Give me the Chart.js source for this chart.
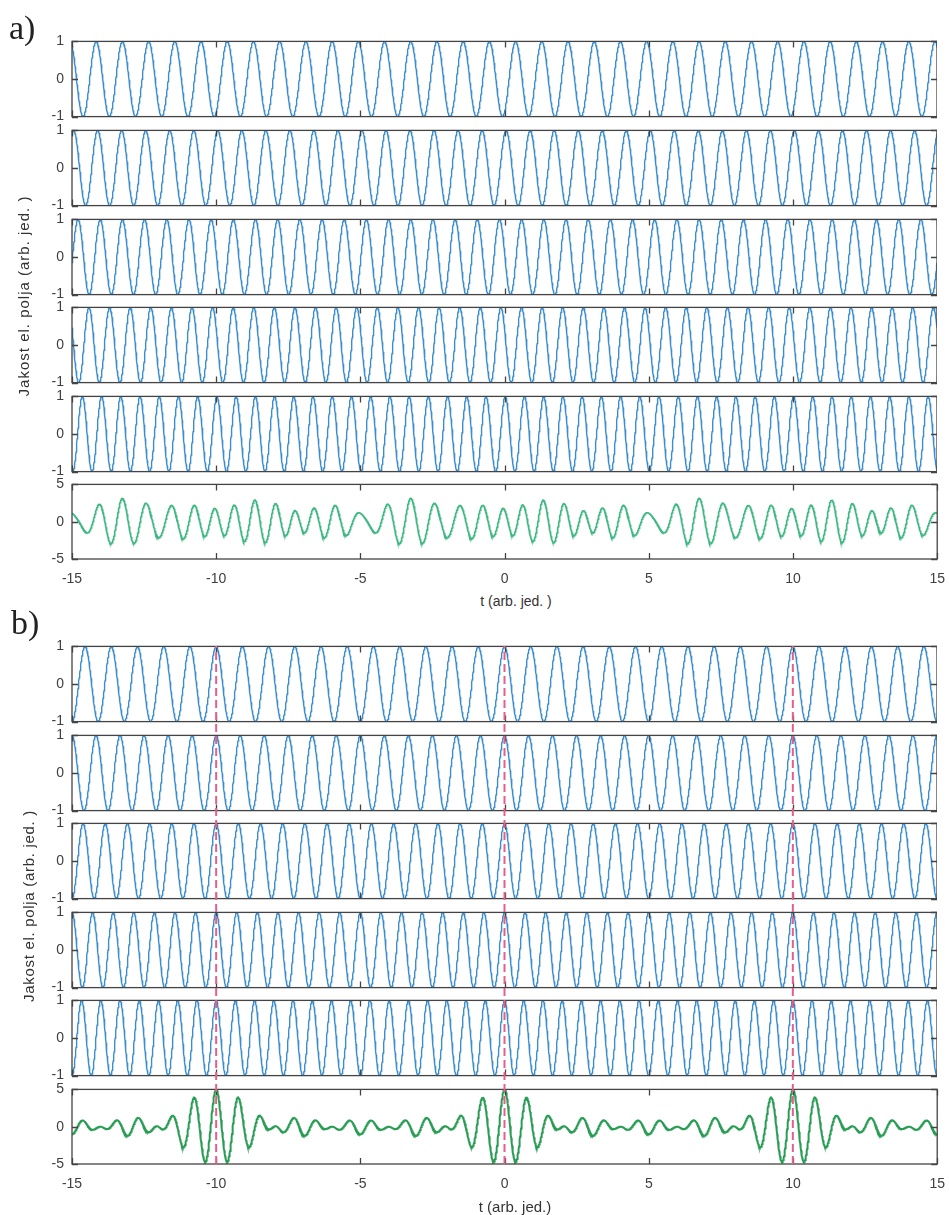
<!DOCTYPE html>
<html>
<head>
<meta charset="utf-8">
<script src="https://cdn.jsdelivr.net/npm/chart.js@4.4.1/dist/chart.umd.min.js"></script>
<style>
  html, body { margin: 0; padding: 0; background: #ffffff; }
  #page { position: relative; width: 949px; height: 1215px; overflow: hidden; background: #fff; }
  canvas { position: absolute; }
  .lbl { position: absolute; font-family: "Liberation Sans", Arial, sans-serif; color: #333; white-space: nowrap; transform: translate(-50%, -50%); }
  .panel { position: absolute; font-family: "Liberation Serif", "Times New Roman", serif; font-size: 34px; color: #222; line-height: 1; }
  .ytitle { position: absolute; font-family: "Liberation Sans", Arial, sans-serif; font-size: 15px; color: #333; white-space: nowrap; transform: translate(-50%, -50%) rotate(-90deg); }
</style>
</head>
<body>
<div id="page"></div>
<script>
// ---------------- data ----------------
const timeRange = [-15, 15];                 // t axis limits
const timeTicks = [-15, -10, -5, 0, 5, 10, 15];
const waveTicks = [-1, 0, 1];                // y ticks of single waves
const sumTicks = [-5, 0, 5];                 // y ticks of summed field
const waveFreqs = [1.1, 1.2, 1.3, 1.4, 1.5]; // cycles per unit t, rows 1..5
const peakTimesA = [-14.16, -14.11, -14.02, -14.41, -14.64]; // a) a crest of each wave
const peakTimesB = [0, 0, 0, 0, 0];          // b) all crests aligned at t = 0
const markerTimesB = [-10, 0, 10];           // b) red dashed lines
const xTitleA = 't (arb. jed. )';
const xTitleB = 't (arb. jed.)';
const yTitle = 'Jakost el. polja (arb. jed. )';

// ---------------- styling / layout ----------------
const BLUE = '#3b8dcc';
const GREEN_A = '#40b884';
const GREEN_B = '#2a9d55';
const RED = '#e4608a';
const FRAME = '#444444';
const TICK_FONT = { family: '"Liberation Sans", Arial, sans-serif', size: 14 };
const TICK_COLOR = '#404040';
const AXIS_LEFT = 72, AXIS_RIGHT = 937, PAGE_W = 949;
const AREA_W = AXIS_RIGHT - AXIS_LEFT;
const PLOT_H = 75, XAXIS_H = 34;
const rowTopsA = [41, 130, 219, 307, 396, 484];
const rowTopsB = [646, 735, 823, 912, 1000, 1089];

const page = document.getElementById('page');

// sample times (plot resolution only)
const N = 3001;
const sampleTimes = [];
for (let i = 0; i < N; i++) sampleTimes.push(timeRange[0] + (timeRange[1] - timeRange[0]) * i / (N - 1));

function wavePoints(f, t0) {
  return sampleTimes.map(t => ({ x: t, y: Math.cos(2 * Math.PI * f * (t - t0)) }));
}
function sumPoints(list) {
  return sampleTimes.map((t, i) => ({ x: t, y: list.reduce((s, w) => s + w[i].y, 0) }));
}

const framePlugin = {
  id: 'frame',
  afterDatasetsDraw(chart) {
    const { ctx, chartArea: a, scales } = chart;
    ctx.save();
    ctx.strokeStyle = FRAME;
    ctx.lineWidth = 1.3;
    ctx.beginPath();
    const L = 6;
    timeTicks.forEach(v => {
      const x = Math.round(scales.x.getPixelForValue(v)) + 0.5;
      ctx.moveTo(x, a.top); ctx.lineTo(x, a.top + L);
      ctx.moveTo(x, a.bottom); ctx.lineTo(x, a.bottom - L);
    });
    (chart.options.myTicks || []).forEach(v => {
      const y = Math.round(scales.y.getPixelForValue(v)) + 0.5;
      ctx.moveTo(a.left, y); ctx.lineTo(a.left + L, y);
      ctx.moveTo(a.right, y); ctx.lineTo(a.right - L, y);
    });
    ctx.stroke();
    ctx.strokeRect(a.left, a.top, a.right - a.left, a.bottom - a.top);
    ctx.restore();
  }
};

// create a chart so that its chart area lands exactly on the given page rectangle
function placeChart(makeConfig, areaL, areaT, areaW, areaH) {
  const probe = document.createElement('canvas');
  probe.width = 1000; probe.height = 400;
  probe.style.left = '0px'; probe.style.top = '0px';
  probe.style.width = '1000px'; probe.style.height = '400px';
  page.appendChild(probe);
  const pc = new Chart(probe, makeConfig());
  const a = pc.chartArea;
  const exL = a.left, exR = 1000 - a.right, exT = a.top, exB = 400 - a.bottom;
  pc.destroy();
  page.removeChild(probe);

  const c = document.createElement('canvas');
  const w = Math.round(exL + areaW + exR), h = Math.round(exT + areaH + exB);
  c.width = w; c.height = h;
  c.style.width = w + 'px'; c.style.height = h + 'px';
  c.style.left = (areaL - exL) + 'px';
  c.style.top = (areaT - exT) + 'px';
  page.appendChild(c);
  return new Chart(c, makeConfig());
}

function subplot(top, points, color, width, yTicks, showX) {
  const yMin = yTicks[0], yMax = yTicks[yTicks.length - 1];
  const makeConfig = () => ({
    type: 'line',
    data: { datasets: [{ data: points, borderColor: color, borderWidth: width, pointRadius: 0, tension: 0, fill: false }] },
    options: {
      myTicks: yTicks,
      animation: false, responsive: false, maintainAspectRatio: false, devicePixelRatio: 1,
      parsing: false, normalized: true,
      layout: { padding: 0 },
      plugins: { legend: { display: false }, tooltip: { enabled: false } },
      scales: {
        x: {
          type: 'linear', min: timeRange[0], max: timeRange[1], display: showX,
          grid: { display: false, drawTicks: false }, border: { display: false },
          ticks: { color: TICK_COLOR, font: TICK_FONT, padding: 12, maxRotation: 0, autoSkip: false },
          afterBuildTicks(s) { s.ticks = timeTicks.map(v => ({ value: v })); },
          afterFit(s) { if (showX) s.height = XAXIS_H; }
        },
        y: {
          type: 'linear', min: yMin, max: yMax,
          grid: { display: false, drawTicks: false }, border: { display: false },
          ticks: { color: TICK_COLOR, font: TICK_FONT, padding: 8, autoSkip: false },
          afterBuildTicks(s) { s.ticks = yTicks.map(v => ({ value: v })); },
          afterFit(s) { s.width = AXIS_LEFT; }
        }
      }
    },
    plugins: [framePlugin]
  });
  return placeChart(makeConfig, AXIS_LEFT, top, AREA_W, PLOT_H);
}

function panel(tops, peakTimes, green, greenWidth) {
  const waves = waveFreqs.map((f, i) => wavePoints(f, peakTimes[i]));
  waves.forEach((w, i) => subplot(tops[i], w, BLUE, 1.4, waveTicks, false));
  subplot(tops[5], sumPoints(waves), green, greenWidth, sumTicks, true);
}

panel(rowTopsA, peakTimesA, GREEN_A, 1.7);
panel(rowTopsB, peakTimesB, GREEN_B, 2.0);

// red dashed markers over panel b
placeChart(() => ({
  type: 'line',
  data: {
    datasets: markerTimesB.map(t => ({
      data: [{ x: t, y: 0 }, { x: t, y: 1 }],
      borderColor: RED, borderWidth: 2, borderDash: [8, 4], pointRadius: 0
    }))
  },
  options: {
    animation: false, responsive: false, maintainAspectRatio: false, devicePixelRatio: 1, parsing: false,
    layout: { padding: 0 },
    plugins: { legend: { display: false }, tooltip: { enabled: false } },
    scales: {
      x: { type: 'linear', min: timeRange[0], max: timeRange[1], display: false },
      y: { type: 'linear', min: 0, max: 1, display: false }
    }
  }
}), AXIS_LEFT, rowTopsB[0], AREA_W, rowTopsB[5] + PLOT_H - rowTopsB[0]);

// text
function addText(cls, text, css) {
  const d = document.createElement('div');
  d.className = cls; d.textContent = text;
  Object.assign(d.style, css);
  page.appendChild(d);
  return d;
}
addText('panel', 'a)', { left: '9px', top: '11px' });
addText('panel', 'b)', { left: '11px', top: '606px' });
addText('lbl', xTitleA, { left: '516px', top: '601px', fontSize: '14px' });
addText('lbl', xTitleB, { left: '515px', top: '1206px', fontSize: '15px' });
addText('ytitle', yTitle, { left: '23px', top: '296px', letterSpacing: '1px' });
addText('ytitle', yTitle, { left: '28px', top: '906px', letterSpacing: '0.7px' });
</script>
</body>
</html>
